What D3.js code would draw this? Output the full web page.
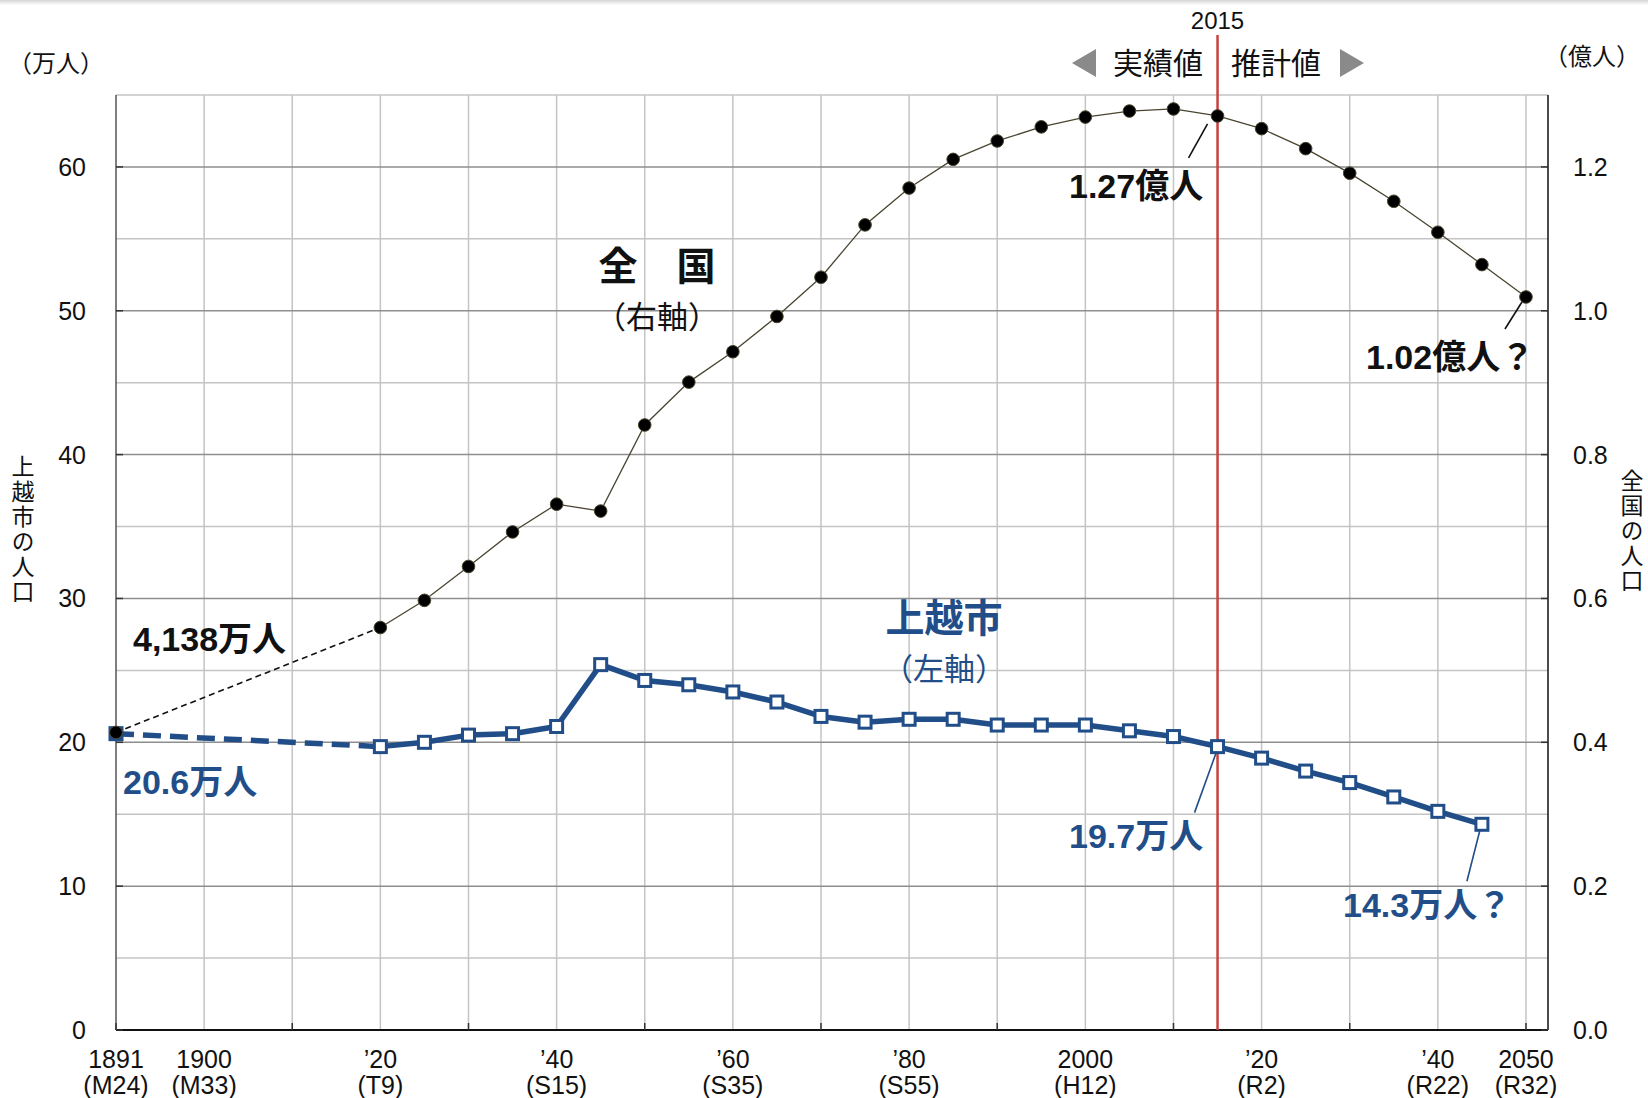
<!DOCTYPE html>
<html lang="ja">
<head>
<meta charset="utf-8">
<script src="https://cdn.jsdelivr.net/npm/d3@7"></script>
<style>
  html, body { margin: 0; padding: 0; background: #fff; }
  svg { display: block; }
  .num { font-family: "Liberation Sans Narrow", "Liberation Sans", "Noto Sans CJK JP", sans-serif; }
  .jp  { font-family: "Noto Sans CJK JP", sans-serif; }
</style>
</head>
<body>
<svg id="chart" width="1648" height="1098"></svg>
<script>
// Census years (1891 first, then every five years) and projected years
const nationalYears = [1891, 1920, 1925, 1930, 1935, 1940, 1945, 1950, 1955, 1960, 1965,
  1970, 1975, 1980, 1985, 1990, 1995, 2000, 2005, 2010, 2015, 2020, 2025, 2030, 2035,
  2040, 2045, 2050];
// Population of Japan (億人, right axis)
const nationalPop = [0.4138, 0.5596, 0.5974, 0.6445, 0.6925, 0.7311, 0.7215, 0.8412,
  0.9008, 0.9430, 0.9921, 1.0467, 1.1194, 1.1706, 1.2105, 1.2361, 1.2557, 1.2693,
  1.2777, 1.2806, 1.2709, 1.2532, 1.2254, 1.1913, 1.1522, 1.1092, 1.0642, 1.0192];

const joetsuYears = [1891, 1920, 1925, 1930, 1935, 1940, 1945, 1950, 1955, 1960, 1965,
  1970, 1975, 1980, 1985, 1990, 1995, 2000, 2005, 2010, 2015, 2020, 2025, 2030, 2035,
  2040, 2045];
// Population of Joetsu city (万人, left axis)
const joetsuPop = [20.6, 19.7, 20.0, 20.5, 20.6, 21.1, 25.4, 24.3, 24.0, 23.5, 22.8,
  21.8, 21.4, 21.6, 21.6, 21.2, 21.2, 21.2, 20.8, 20.4, 19.7, 18.9, 18.0, 17.2, 16.2,
  15.2, 14.3];

const baseYear = 2015;

// Axis ticks
const leftTicks = [0, 10, 20, 30, 40, 50, 60];
const rightTicks = [0.0, 0.2, 0.4, 0.6, 0.8, 1.0, 1.2];
const xTickYears = [1891, 1900, 1920, 1940, 1960, 1980, 2000, 2020, 2040, 2050];
const xTickTop = ["1891", "1900", "\u201920", "\u201940", "\u201960", "\u201980", "2000", "\u201920", "\u201940", "2050"];
const xTickEra = ["(M24)", "(M33)", "(T9)", "(S15)", "(S35)", "(S55)", "(H12)", "(R2)", "(R22)", "(R32)"];

const BLUE = "#214e88";
const RED = "#c8413f";

const svg = d3.select("#chart");
const plot = { left: 116, right: 1548, top: 95, bottom: 1030 };

// Each observation sits in its five-year slot on the time axis
const slot = yr => yr - (yr % 5);

const x = d3.scaleLinear().domain([1890, 2052.5]).range([plot.left, plot.right]);
const yL = d3.scaleLinear().domain([0, 65]).range([plot.bottom, plot.top]);
const yR = d3.scaleLinear().domain([0, 1.3]).range([plot.bottom, plot.top]);

// faint shade along the top edge
const defs = svg.append("defs");
const g0 = defs.append("linearGradient").attr("id", "topShade").attr("x1", 0).attr("y1", 0).attr("x2", 0).attr("y2", 1);
g0.append("stop").attr("offset", 0).attr("stop-color", "#d4d4d4");
g0.append("stop").attr("offset", 1).attr("stop-color", "#ffffff");
svg.append("rect").attr("x", 0).attr("y", 0).attr("width", 1648).attr("height", 5).attr("fill", "url(#topShade)");

// Grid
const grid = svg.append("g");
const minorY = d3.range(5, 65, 10);
grid.selectAll(".gmin").data(minorY.concat([65])).join("line")
  .attr("x1", plot.left).attr("x2", plot.right)
  .attr("y1", d => yL(d)).attr("y2", d => yL(d))
  .attr("stroke", "#c4c4c4").attr("stroke-width", 1.5);
grid.selectAll(".gv").data(d3.range(1900, 2051, 10)).join("line")
  .attr("x1", d => x(d)).attr("x2", d => x(d))
  .attr("y1", plot.top).attr("y2", plot.bottom)
  .attr("stroke", "#c4c4c4").attr("stroke-width", 1.5);
grid.selectAll(".gmaj").data(leftTicks.slice(1)).join("line")
  .attr("x1", plot.left).attr("x2", plot.right)
  .attr("y1", d => yL(d)).attr("y2", d => yL(d))
  .attr("stroke", "#8e8e8e").attr("stroke-width", 1.5);

// Axes
const axes = svg.append("g");
axes.append("line").attr("x1", plot.left).attr("x2", plot.left).attr("y1", plot.top).attr("y2", plot.bottom)
  .attr("stroke", "#555").attr("stroke-width", 1.5);
axes.append("line").attr("x1", plot.right).attr("x2", plot.right).attr("y1", plot.top).attr("y2", plot.bottom)
  .attr("stroke", "#111").attr("stroke-width", 1.5);
axes.append("line").attr("x1", plot.left).attr("x2", plot.right).attr("y1", plot.bottom).attr("y2", plot.bottom)
  .attr("stroke", "#111").attr("stroke-width", 2);
axes.selectAll(".tl").data(leftTicks).join("line")
  .attr("x1", plot.left).attr("x2", plot.left + 7)
  .attr("y1", d => yL(d)).attr("y2", d => yL(d)).attr("stroke", "#333").attr("stroke-width", 1.5);
axes.selectAll(".tr").data(rightTicks).join("line")
  .attr("x1", plot.right - 7).attr("x2", plot.right)
  .attr("y1", d => yR(d)).attr("y2", d => yR(d)).attr("stroke", "#333").attr("stroke-width", 1.5);
axes.selectAll(".tx").data(d3.range(1890, 2051, 20)).join("line")
  .attr("x1", d => x(d)).attr("x2", d => x(d))
  .attr("y1", plot.bottom - 7).attr("y2", plot.bottom).attr("stroke", "#333").attr("stroke-width", 1.5);

// Tick labels
axes.selectAll(".ll").data(leftTicks).join("text").attr("class", "num")
  .attr("x", 86).attr("y", d => yL(d) + 9).attr("text-anchor", "end")
  .attr("font-size", 25).attr("fill", "#111").text(d => d);
axes.selectAll(".rl").data(rightTicks).join("text").attr("class", "num")
  .attr("x", 1573).attr("y", d => yR(d) + 9).attr("text-anchor", "start")
  .attr("font-size", 25).attr("fill", "#111").text(d => d.toFixed(1));
axes.selectAll(".xl1").data(xTickYears).join("text").attr("class", "num")
  .attr("x", d => x(slot(d))).attr("y", 1068).attr("text-anchor", "middle")
  .attr("font-size", 25).attr("fill", "#111").text((d, i) => xTickTop[i]);
axes.selectAll(".xl2").data(xTickYears).join("text").attr("class", "num")
  .attr("x", d => x(slot(d))).attr("y", 1094).attr("text-anchor", "middle")
  .attr("font-size", 25).attr("fill", "#111").text((d, i) => xTickEra[i]);

// Unit labels
svg.append("text").attr("class", "jp").attr("x", 8).attr("y", 72).attr("font-size", 24).attr("fill", "#111").text("（万人）");
svg.append("text").attr("class", "jp").attr("x", 1544).attr("y", 65).attr("font-size", 24).attr("fill", "#111").text("（億人）");

// Vertical axis titles, set in vertical writing mode
function verticalTitle(str, cx, cy, size) {
  svg.append("text").attr("class", "jp")
    .attr("x", cx).attr("y", cy)
    .attr("writing-mode", "vertical-rl")
    .attr("text-anchor", "middle")
    .attr("letter-spacing", 2)
    .attr("font-size", size).attr("fill", "#111").text(str);
}
verticalTitle("上越市の人口", 23, 530, 23);
verticalTitle("全国の人口", 1632, 531, 23);

// 2015 divider between actual and projected values
svg.append("line").attr("x1", x(baseYear)).attr("x2", x(baseYear)).attr("y1", 35).attr("y2", plot.bottom)
  .attr("stroke", RED).attr("stroke-width", 2.5);
svg.append("text").attr("class", "num").attr("x", x(baseYear)).attr("y", 29).attr("text-anchor", "middle")
  .attr("font-size", 24).attr("fill", "#111").text("2015");
svg.append("path").attr("d", d3.line()([[1072, 63], [1096, 49], [1096, 77]]) + "Z").attr("fill", "#8a8a8a");
svg.append("path").attr("d", d3.line()([[1364, 63], [1340, 49], [1340, 77]]) + "Z").attr("fill", "#8a8a8a");
svg.append("text").attr("class", "jp").attr("x", 1158).attr("y", 74).attr("text-anchor", "middle")
  .attr("font-size", 30).attr("fill", "#111").text("実績値");
svg.append("text").attr("class", "jp").attr("x", 1276).attr("y", 74).attr("text-anchor", "middle")
  .attr("font-size", 30).attr("fill", "#111").text("推計値");

// National series (right axis)
const nat = nationalYears.map((yr, i) => ({ yr, v: nationalPop[i] }));
const natLine = d3.line().x(d => x(slot(d.yr))).y(d => yR(d.v));
svg.append("path").attr("d", natLine(nat.slice(0, 2))).attr("fill", "none")
  .attr("stroke", "#111").attr("stroke-width", 1.6).attr("stroke-dasharray", "6,4");
svg.append("path").attr("d", natLine(nat.slice(1))).attr("fill", "none")
  .attr("stroke", "#4a4530").attr("stroke-width", 1.3);

// Joetsu series (left axis)
const joe = joetsuYears.map((yr, i) => ({ yr, v: joetsuPop[i] }));
const joeLine = d3.line().x(d => x(slot(d.yr))).y(d => yL(d.v));
svg.append("path").attr("d", joeLine(joe.slice(0, 2))).attr("fill", "none")
  .attr("stroke", BLUE).attr("stroke-width", 5.5).attr("stroke-dasharray", "18,9");
svg.append("path").attr("d", joeLine(joe.slice(1))).attr("fill", "none")
  .attr("stroke", BLUE).attr("stroke-width", 5.5).attr("stroke-linejoin", "round");
svg.append("g").selectAll("rect").data(joe).join("rect")
  .attr("x", d => x(slot(d.yr)) - 6).attr("y", d => yL(d.v) - 6)
  .attr("width", 12).attr("height", 12)
  .attr("fill", (d, i) => i === 0 ? BLUE : "#fff").attr("stroke", BLUE).attr("stroke-width", 3);

svg.append("g").selectAll("circle").data(nat).join("circle")
  .attr("cx", d => x(slot(d.yr))).attr("cy", d => yR(d.v)).attr("r", 6.3)
  .attr("fill", "#000").attr("stroke", "#4a4530").attr("stroke-width", 1);

// Series titles: name on the first line, axis on the second
function seriesTitle(cx, y1, name, axisNote, color) {
  svg.append("text").attr("class", "jp").attr("text-anchor", "middle").attr("fill", color)
    .attr("x", cx).attr("y", y1)
    .attr("font-size", 39).attr("font-weight", "bold").text(name);
  svg.append("text").attr("class", "jp").attr("text-anchor", "middle").attr("fill", color)
    .attr("x", cx).attr("y", y1 + 48)
    .attr("font-size", 31).text(axisNote);
}
seriesTitle(657, 280, "全　国", "（右軸）", "#111");
seriesTitle(944, 632, "上越市", "（左軸）", BLUE);

// Value callouts
function callout(px, py, dx1, dy1, dx2, dy2, color) {
  svg.append("line").attr("x1", px + dx1).attr("y1", py + dy1).attr("x2", px + dx2).attr("y2", py + dy2)
    .attr("stroke", color).attr("stroke-width", 1.6);
}
function valueLabel(xp, yp, str, color) {
  svg.append("text").attr("class", "num").attr("x", xp).attr("y", yp)
    .attr("font-size", 34).attr("font-weight", "bold").attr("fill", color).text(str);
}
const fmtComma = d3.format(",");
const n0 = nat[0], nBase = nat.find(d => d.yr === baseYear), nLast = nat[nat.length - 1];
const j0 = joe[0], jBase = joe.find(d => d.yr === baseYear), jLast = joe[joe.length - 1];

valueLabel(133, 651, fmtComma(Math.round(n0.v * 10000)) + "万人", "#111");
valueLabel(123, 794, j0.v.toFixed(1) + "万人", BLUE);

callout(x(slot(nBase.yr)), yR(nBase.v), -10, 8, -29, 42, "#111");
valueLabel(1069, 198, nBase.v.toFixed(2) + "億人", "#111");

callout(x(slot(nLast.yr)), yR(nLast.v), -4, 5, -21, 32, "#111");
valueLabel(1366, 369, nLast.v.toFixed(2) + "億人？", "#111");

callout(x(slot(jBase.yr)), yL(jBase.v), -1, 5, -23, 66, BLUE);
valueLabel(1069, 848, jBase.v.toFixed(1) + "万人", BLUE);

callout(x(slot(jLast.yr)), yL(jLast.v), -2, 6, -15, 57, BLUE);
valueLabel(1343, 917, jLast.v.toFixed(1) + "万人？", BLUE);
</script>
</body>
</html>
